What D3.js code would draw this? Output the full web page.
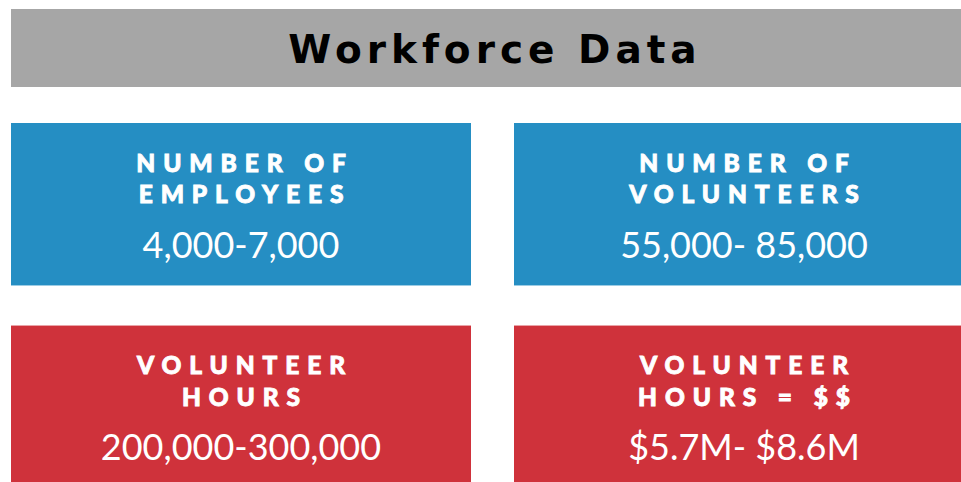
<!DOCTYPE html>
<html>
<head>
<meta charset="utf-8">
<script src="https://cdn.jsdelivr.net/npm/d3@7"></script>
<style>
  html, body { margin: 0; padding: 0; background: #fff; }
  svg { display: block; }
</style>
</head>
<body>
<svg width="961" height="482"></svg>
<script>
var title = "Workforce Data";
var labels = [
  ["NUMBER OF", "EMPLOYEES"],
  ["NUMBER OF", "VOLUNTEERS"],
  ["VOLUNTEER", "HOURS"],
  ["VOLUNTEER", "HOURS = $$"]
];
var values = ["4,000-7,000", "55,000- 85,000", "200,000-300,000", "$5.7M- $8.6M"];
var cols = [0, 1, 0, 1];
var rows = [0, 0, 1, 1];
var rowColors = ["#258ec3", "#cf323b"];

var svg = d3.select("svg");

var x = d3.scaleBand().domain([0, 1]).range([11, 974]).paddingInner(0.0855);
var y = d3.scaleBand().domain([0, 1]).range([123, 488]).paddingInner(0.198);

// title bar
svg.append("rect")
   .attr("x", 11).attr("y", 9)
   .attr("width", 963).attr("height", 78)
   .style("fill", "#a6a6a6");

svg.append("text")
   .attr("x", 495).attr("y", 62.5)
   .attr("text-anchor", "middle")
   .style("font-family", "DejaVu Sans")
   .style("font-weight", "bold")
   .style("font-size", "39px")
   .style("letter-spacing", "5px")
   .style("fill", "#000")
   .text(title);

var cards = svg.selectAll("g.card")
   .data(values)
   .enter()
   .append("g")
   .attr("class", "card")
   .attr("transform", function(d, i) { return "translate(" + x(cols[i]) + "," + y(rows[i]) + ")"; });

cards.append("rect")
   .attr("width", x.bandwidth())
   .attr("height", y.bandwidth())
   .style("fill", function(d, i) { return rowColors[rows[i]]; });

cards.each(function(d, i) {
  var g = d3.select(this);
  labels[i].forEach(function(line, j) {
    g.append("text")
     .attr("x", x.bandwidth() / 2 + 4)
     .attr("y", 48.5 + j * 31.5)
     .attr("text-anchor", "middle")
     .style("font-family", "Lato")
     .style("font-weight", "900")
     .style("font-size", "24.5px")
     .style("letter-spacing", "7.9px")
     .style("fill", "#fff")
     .style("stroke", "#fff")
     .style("stroke-width", "0.9px")
     .text(line);
  });
  g.append("text")
   .attr("x", x.bandwidth() / 2)
   .attr("y", 134.5)
   .attr("text-anchor", "middle")
   .style("font-family", "Lato")
   .style("font-weight", "400")
   .style("font-size", "36px")
   .style("fill", "#fff")
   .text(d);
});
</script>
</body>
</html>
